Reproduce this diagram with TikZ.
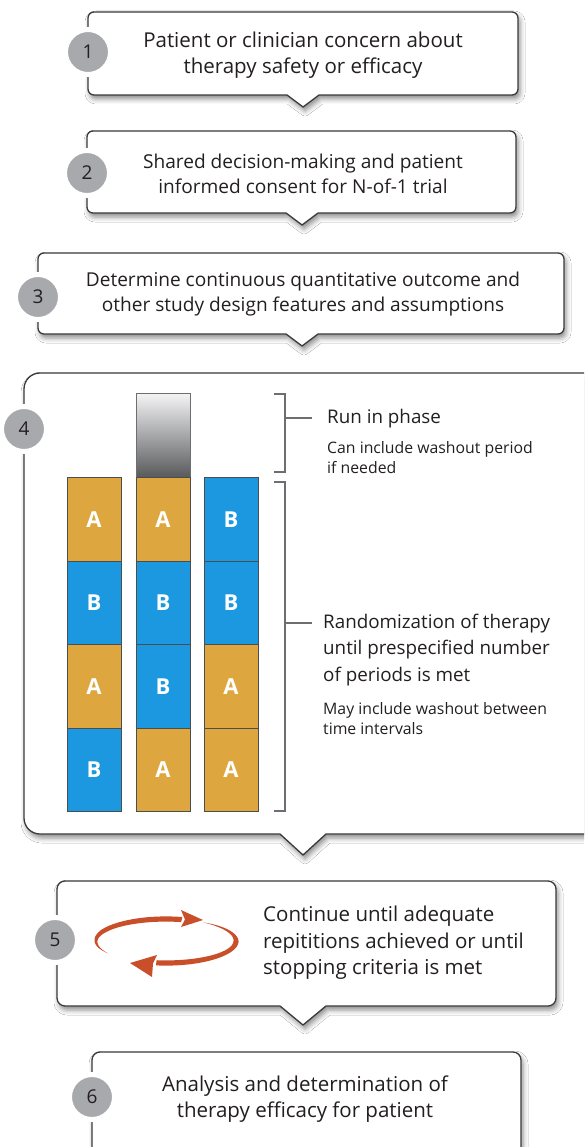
\documentclass[tikz,border=0pt]{standalone}
\usepackage{fontspec}
\setmainfont{Open Sans}
\usetikzlibrary{shadows.blur}
\definecolor{ink}{HTML}{231F20}
\definecolor{numgray}{HTML}{A7A9AC}
\definecolor{orangeA}{HTML}{DDA63F}
\definecolor{blueB}{HTML}{1B98E0}
\definecolor{brk}{HTML}{6D6E71}
\definecolor{cyc}{HTML}{C94F2A}
\definecolor{boxedge}{HTML}{3A3A3C}
\definecolor{gradtop}{HTML}{F4F4F5}
\definecolor{gradbot}{HTML}{58595B}
\newcommand\calloutbox[8]{%
 \path[boxstyle] (#1,{#2+#5}) arc[start angle=180,end angle=270,radius=#5]
  -- ({#3-#5},#2) arc[start angle=270,end angle=360,radius=#5]
  -- (#3,{#4-#5}) arc[start angle=0,end angle=90,radius=#5]
  -- ({#6+#7},#4) -- (#6,{#4+#8}) -- ({#6-#7},#4)
  -- ({#1+#5},#4) arc[start angle=90,end angle=180,radius=#5] -- cycle;}
\tikzset{
 boxstyle/.style={fill=white, draw=boxedge, line width=1.3pt, line join=miter,
   blur shadow={shadow xshift=2pt, shadow yshift=-4pt, shadow blur radius=5pt, shadow opacity=45}},
 num/.style={circle, fill=numgray, draw=white, line width=5pt, minimum size=45pt,
   inner sep=0pt, text=ink, font=\fontsize{19}{19}\selectfont},
 txt/.style={align=center, text=ink, inner sep=0pt},
 bigf/.style={font=\fontsize{20.5}{26}\selectfont},
 midf/.style={font=\fontsize{19.1}{24.5}\selectfont},
 ltxt/.style={align=left, anchor=west, text=ink, inner sep=0pt},
 rtxt/.style={ltxt, font=\fontsize{18.8}{26.5}\selectfont},
 stxt/.style={ltxt, font=\fontsize{15.8}{20}\selectfont},
 cell/.style={draw=brk!70!black, line width=0.8pt, minimum width=54pt, minimum height=83.3pt,
   inner sep=0pt, text=white, font=\bfseries\fontsize{22}{22}\selectfont},
 cellA/.style={cell, fill=orangeA},
 cellB/.style={cell, fill=blueB},
 bracket/.style={draw=brk, line width=1.5pt},
}
\begin{document}
\begin{tikzpicture}[x=1pt,y=-1pt]
\clip (0,0) rectangle (584,1147);
\fill[white] (0,0) rectangle (584,1147);
% boxes
\calloutbox{88}{12}{518}{95}{6}{303}{16}{12}
\calloutbox{87}{131}{516}{213}{6}{302}{16}{12}
\calloutbox{38}{253}{564}{334}{6}{302}{16}{12}
\calloutbox{24}{373}{600}{834}{16}{303}{23}{21}
\calloutbox{57}{881}{556}{1006}{8}{303}{23}{19}
\calloutbox{92}{1052}{521}{1175}{8}{303}{23}{19}
% numbers
\node[num] (n1) at (88,52) {1};
\node[num] (n2) at (87,173) {2};
\node[num] (n3) at (38,297) {3};
\node[num] (n4) at (24,429) {4};
\node[num] (n5) at (55,940) {5};
\node[num] (n6) at (92,1097) {6};
% texts
\node[txt,bigf] (t1) at (303,55) {Patient or clinician concern about\\therapy safety or efficacy};
\node[txt,midf] (t2) at (303,174) {Shared decision-making and patient\\informed consent for N-of-1 trial};
\node[txt,midf] (t3) at (303,294) {Determine continuous quantitative outcome and\\other study design features and assumptions};
\node[txt,bigf] (t6) at (305,1099) {Analysis and determination of\\therapy efficacy for patient};
\node[ltxt,font=\fontsize{20.5}{26.5}\selectfont] (t5) at (263,943) {Continue until adequate\\repititions achieved or until\\stopping criteria is met};
% step 4 columns
\node[draw=brk, line width=0.8pt, minimum width=54pt, minimum height=84pt, inner sep=0pt,
  top color=gradtop, bottom color=gradbot] (runin) at (163,435.5) {};
\node[cellA] (a11) at (94,519.5) {A};
\node[cellB] (a12) at (94,603) {B};
\node[cellA] (a13) at (94,686.5) {A};
\node[cellB] (a14) at (94,769.8) {B};
\node[cellA] (a21) at (163,519.5) {A};
\node[cellB] (a22) at (163,603) {B};
\node[cellB] (a23) at (163,686.5) {B};
\node[cellA] (a24) at (163,769.8) {A};
\node[cellB] (a31) at (231,519.5) {B};
\node[cellB] (a32) at (231,603) {B};
\node[cellA] (a33) at (231,686.5) {A};
\node[cellA] (a34) at (231,769.8) {A};
% brackets
\draw[bracket] (274,394) -- (285,394) -- (285,472) -- (274,472);
\draw[bracket] (285,418) -- (312,418);
\draw[bracket] (274,482) -- (285,482) -- (285,811) -- (274,811);
\draw[bracket] (285,623) -- (312,623);
\node[rtxt] (l1) at (327,419) {Run in phase};
\node[stxt] (l2) at (327,458) {Can include washout period\\if needed};
\node[rtxt] (l3) at (323,650) {Randomization of therapy\\until prespecified number\\of periods is met};
\node[stxt] (l4) at (323,719) {May include washout between\\time intervals};
% cycle arrows
\fill[cyc] plot[domain=146:283,samples=60] ({166+(70+2.6*min(1,(\x-146)/60))*cos(\x)},{941+(22+2.6*min(1,(\x-146)/60))*sin(\x)})
  -- plot[domain=283:146,samples=60] ({166+(70-2.6*min(1,(\x-146)/60))*cos(\x)},{941+(22-2.6*min(1,(\x-146)/60))*sin(\x)}) -- cycle;
\fill[cyc] (203,920) -- (181,910) -- (185,919.5) -- (181,927) -- cycle;
\fill[cyc] plot[domain=302:458,samples=70] ({166+(70+2.6*min(1,(\x-302)/60))*cos(\x)},{941+(22+2.6*min(1,(\x-302)/60))*sin(\x)})
  -- plot[domain=458:302,samples=70] ({166+(70-2.6*min(1,(\x-302)/60))*cos(\x)},{941+(22-2.6*min(1,(\x-302)/60))*sin(\x)}) -- cycle;
\fill[cyc] (130,963) -- (157,955) -- (153,963.5) -- (152,977) -- cycle;
\end{tikzpicture}
\end{document}
